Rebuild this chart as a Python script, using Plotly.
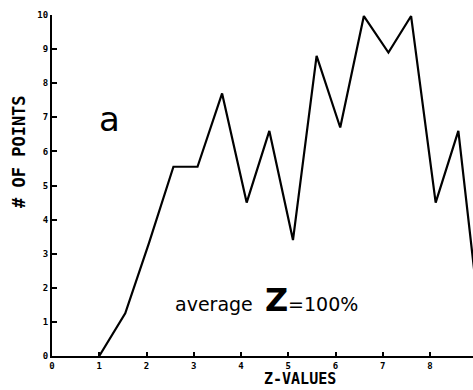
import plotly.graph_objects as go

# Data (hand-drawn histogram polygon)
z_values = [0, 1.0, 1.55, 2.05, 2.57, 3.08, 3.6, 4.12, 4.6, 5.1, 5.6, 6.1, 6.6, 7.12, 7.6, 8.12, 8.6, 9.1]
n_points = [0, 0, 1.25, 3.3, 5.55, 5.55, 7.7, 4.5, 6.6, 3.4, 8.8, 6.7, 9.97, 8.9, 9.97, 4.5, 6.6, 0.5]
x_ticks = [0, 1, 2, 3, 4, 5, 6, 7, 8, 9]
y_ticks = [0, 1, 2, 3, 4, 5, 6, 7, 8, 9, 10]

tick_font = dict(family="DejaVu Sans Mono", size=9, color="black", weight="bold")
title_font = dict(family="DejaVu Sans Mono", size=17, color="black", weight="bold")

fig = go.Figure()
fig.add_trace(go.Scatter(
    x=z_values[1:], y=n_points[1:], mode="lines",
    line=dict(color="black", width=2.2),
    showlegend=False, cliponaxis=True,
))

fig.update_layout(
    width=473, height=390,
    margin=dict(l=52, r=0, t=15, b=34),
    paper_bgcolor="white", plot_bgcolor="white",
    xaxis=dict(
        range=[0, 8.91], tickvals=x_ticks, ticktext=[str(v) for v in x_ticks],
        showgrid=False, zeroline=False, showline=True, linecolor="black", linewidth=2,
        ticks="inside", ticklen=4, tickwidth=2, tickcolor="black",
        tickfont=tick_font, ticklabelstandoff=0,
    ),
    yaxis=dict(
        range=[0, 10], tickvals=y_ticks, ticktext=[str(v) for v in y_ticks],
        showgrid=False, zeroline=False, showline=True, linecolor="black", linewidth=2,
        ticks="inside", ticklen=5, tickwidth=2, tickcolor="black",
        tickfont=tick_font, ticklabelstandoff=0,
    ),
    annotations=[
        dict(text="# OF POINTS", textangle=-90, xref="paper", yref="paper",
             x=-52/421, y=(390-34-152)/341, xanchor="left", yanchor="middle",
             xshift=7, showarrow=False, font=title_font),
        dict(text="Z-VALUES", xref="paper", yref="paper",
             x=(300-52)/421, y=0, yanchor="top", yshift=-13, borderpad=0,
             showarrow=False,
             font=dict(family="DejaVu Sans Mono", size=15, color="black", weight="bold")),
        dict(text="a", xref="paper", yref="paper",
             x=(109-52)/421, y=(356-119)/341, xanchor="center", yanchor="middle",
             showarrow=False, font=dict(family="DejaVu Sans", size=34, color="black")),
        dict(text="average  <span style='font-size:32px;font-weight:bold'>Z</span>=100%",
             xref="paper", yref="paper",
             x=(173-52)/421, y=(356-300)/341, xanchor="left", yanchor="middle",
             showarrow=False,
             font=dict(family="DejaVu Sans", size=19, color="black")),
    ],
)

fig.write_html("out.html")
